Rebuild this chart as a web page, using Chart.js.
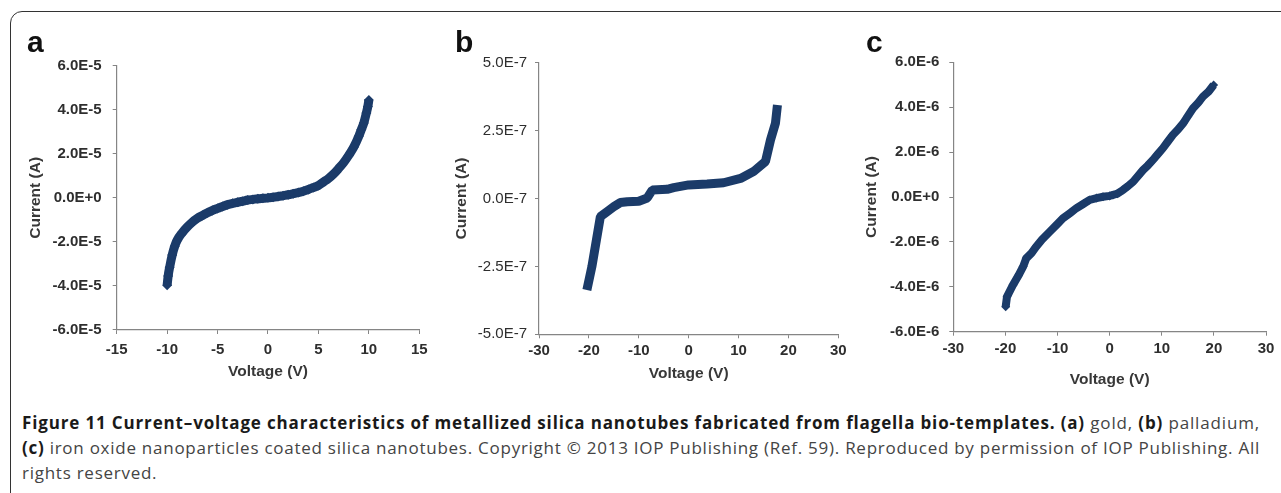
<!DOCTYPE html>
<html><head><meta charset="utf-8">
<script src="https://cdn.jsdelivr.net/npm/chart.js@4/dist/chart.umd.min.js"></script>
<style>
html,body{margin:0;padding:0;background:#fff;width:1281px;height:493px;overflow:hidden;position:relative;}
canvas{position:absolute;left:0;top:0;}
#frame{position:absolute;left:10px;top:11px;width:1300px;height:520px;border:1.5px solid #333;border-radius:12px;box-sizing:border-box;}
.pl{position:absolute;font:bold 30px 'Liberation Sans',Arial,sans-serif;line-height:30px;color:#111;}
#cap{position:absolute;left:22px;top:410px;font-family:'Open Sans',sans-serif;font-size:17px;line-height:25px;color:#444;white-space:nowrap;}
#cap .ln{display:inline-block;}
#cap b{font-weight:700;color:#1a1a1a;}
</style></head><body>
<div id="frame"></div>
<canvas id="ca" width="1281" height="400"></canvas>
<canvas id="cb" width="1281" height="400"></canvas>
<canvas id="cc" width="1281" height="400"></canvas>
<div class="pl" style="left:27px;top:27px">a</div>
<div class="pl" style="left:455px;top:27px">b</div>
<div class="pl" style="left:866px;top:27px">c</div>
<div id="cap">
<div class="ln" id="l1"><b>Figure 11 Current–voltage characteristics of metallized silica nanotubes fabricated from flagella bio-templates. (a)</b> gold, <b>(b)</b> palladium,</div><br>
<div class="ln" id="l2"><b>(c)</b> iron oxide nanoparticles coated silica nanotubes. Copyright © 2013 IOP Publishing (Ref. 59). Reproduced by permission of IOP Publishing. All</div><br>
<div class="ln" id="l3">rights reserved.</div>
</div>
<script>
// ---- Panel a: gold ----
const aVoltage = [-10, -9.9, -9.75, -9.5, -9.25, -9, -8.5, -8, -7.5, -7, -6.5, -6, -5.5, -5, -4.5, -4, -3.5, -3, -2.5, -2, -1.5, -1, -0.5, 0, 0.5, 1, 1.5, 2, 2.5, 3, 3.5, 4, 4.5, 5, 5.5, 6, 6.5, 7, 7.5, 8, 8.5, 9, 9.25, 9.5, 9.75, 9.9, 10];
const aCurrent = [-3.97e-5, -3.55e-5, -3.15e-5, -2.6e-5, -2.2e-5, -1.92e-5, -1.58e-5, -1.32e-5, -1.1e-5, -0.93e-5, -0.8e-5, -0.68e-5, -0.57e-5, -0.48e-5, -0.39e-5, -0.31e-5, -0.25e-5, -0.2e-5, -0.15e-5, -0.1e-5, -0.07e-5, -0.04e-5, -0.02e-5, 0, 0.03e-5, 0.06e-5, 0.1e-5, 0.14e-5, 0.19e-5, 0.24e-5, 0.3e-5, 0.38e-5, 0.47e-5, 0.56e-5, 0.72e-5, 0.88e-5, 1.08e-5, 1.33e-5, 1.6e-5, 1.93e-5, 2.3e-5, 2.8e-5, 3.1e-5, 3.4e-5, 3.85e-5, 4.15e-5, 4.44e-5];
const aXTicks = [-15, -10, -5, 0, 5, 10, 15];
const aXLabels = ['-15', '-10', '-5', '0', '5', '10', '15'];
const aYTicks = [-6e-5, -4e-5, -2e-5, 0, 2e-5, 4e-5, 6e-5];
const aYLabels = ['-6.0E-5', '-4.0E-5', '-2.0E-5', '0.0E+0', '2.0E-5', '4.0E-5', '6.0E-5'];

// ---- Panel b: palladium ----
const bVoltage = [-20.4, -19.4, -17.7, -16.4, -15, -13.7, -12.3, -10, -8.3, -7.3, -4.3, -3, 0, 3.7, 7, 10.4, 13, 15.4, 16.4, 17.4, 17.8];
const bCurrent = [-3.37e-7, -2.51e-7, -0.67e-7, -0.49e-7, -0.3e-7, -0.15e-7, -0.12e-7, -0.1e-7, 0.02e-7, 0.31e-7, 0.34e-7, 0.4e-7, 0.5e-7, 0.53e-7, 0.58e-7, 0.74e-7, 0.99e-7, 1.36e-7, 2.15e-7, 2.77e-7, 3.44e-7];
const bXTicks = [-30, -20, -10, 0, 10, 20, 30];
const bXLabels = ['-30', '-20', '-10', '0', '10', '20', '30'];
const bYTicks = [-5e-7, -2.5e-7, 0, 2.5e-7, 5e-7];
const bYLabels = ['-5.0E-7', '-2.5E-7', '0.0E-7', '2.5E-7', '5.0E-7'];

// ---- Panel c: iron oxide ----
const cVoltage = [-19.95, -19.7, -18.55, -17.5, -16.6, -16, -15, -14.1, -13, -11.5, -10, -8.96, -7.5, -6.4, -5, -3.84, -2.5, -1.28, 0, 0.64, 1.5, 2.55, 3.5, 4.5, 5.5, 6.4, 7.3, 8.3, 9.2, 10.2, 11.1, 12.1, 13.1, 14.1, 15, 16, 17, 17.9, 19, 19.95];
const cCurrent = [-4.89e-6, -4.44e-6, -3.92e-6, -3.5e-6, -3.1e-6, -2.73e-6, -2.5e-6, -2.21e-6, -1.9e-6, -1.55e-6, -1.2e-6, -0.95e-6, -0.7e-6, -0.5e-6, -0.3e-6, -0.13e-6, -0.05e-6, 0.01e-6, 0.05e-6, 0.09e-6, 0.15e-6, 0.31e-6, 0.48e-6, 0.68e-6, 0.95e-6, 1.2e-6, 1.4e-6, 1.65e-6, 1.9e-6, 2.17e-6, 2.45e-6, 2.76e-6, 3.0e-6, 3.28e-6, 3.6e-6, 3.95e-6, 4.2e-6, 4.47e-6, 4.7e-6, 4.99e-6];
const cXTicks = [-30, -20, -10, 0, 10, 20, 30];
const cXLabels = ['-30', '-20', '-10', '0', '10', '20', '30'];
const cYTicks = [-6e-6, -4e-6, -2e-6, 0, 2e-6, 4e-6, 6e-6];
const cYLabels = ['-6.0E-6', '-4.0E-6', '-2.0E-6', '0.0E+0', '2.0E-6', '4.0E-6', '6.0E-6'];

const FAM = "'Liberation Sans', Arial, sans-serif";
const NAVY = '#1b3b69';
const AXIS = '#858585';
const TXT = '#2e2e2e';

function panel(id, o) {
  const titleSize = 15.5, lhT = titleSize * 1.2;
  const padL = o.yTitleCX - lhT / 2;
  const padB = 400 - o.xTitleCY - lhT / 2;
  const yW = o.area.l - padL;
  const xH = 400 - padB - o.area.b;
  const ds = Object.assign({
    data: o.x.map((v, i) => ({x: v, y: o.y[i]})),
    showLine: true, borderColor: NAVY, backgroundColor: NAVY,
    pointBorderWidth: 0, clip: false
  }, o.ds);
  return new Chart(document.getElementById(id), {
    type: 'scatter',
    data: {datasets: [ds]},
    options: {
      responsive: false, animation: false, devicePixelRatio: 1,
      events: [],
      layout: {padding: {left: padL, right: 1281 - o.area.r, top: o.area.t, bottom: padB}},
      plugins: {legend: {display: false}, tooltip: {enabled: false}},
      scales: {
        x: {
          type: 'linear', min: o.xTicks[0], max: o.xTicks[o.xTicks.length - 1],
          afterBuildTicks: s => { s.ticks = o.xTicks.map(v => ({value: v})); },
          afterFit: s => { s.height = xH; s.paddingLeft = 0; s.paddingRight = 0; },
          ticks: {autoSkip: false, maxRotation: 0, padding: o.xPad, color: TXT,
                  font: {family: FAM, size: 15, weight: 'bold'},
                  callback: (v, i) => o.xLabels[i]},
          grid: {drawOnChartArea: false, drawTicks: true, tickLength: 4, color: AXIS, lineWidth: 1},
          border: {display: true, color: AXIS, width: 1.2},
          title: {display: true, text: 'Voltage (V)', color: '#383838', padding: 0,
                  font: {family: FAM, size: titleSize, weight: 'bold'}}
        },
        y: {
          type: 'linear', min: o.yTicks[0], max: o.yTicks[o.yTicks.length - 1],
          afterBuildTicks: s => { s.ticks = o.yTicks.map(v => ({value: v})); },
          afterFit: s => { s.width = yW; s.paddingTop = 0; s.paddingBottom = 0; },
          ticks: {autoSkip: false, padding: o.yPad, color: TXT,
                  font: {family: FAM, size: o.ySize || 15, weight: o.yWeight || 'bold'},
                  callback: (v, i) => o.yLabels[i]},
          grid: {drawOnChartArea: false, drawTicks: true, tickLength: 4, color: AXIS, lineWidth: 1},
          border: {display: true, color: AXIS, width: 1.2},
          title: {display: true, text: 'Current (A)', color: '#383838', padding: 0,
                  font: {family: FAM, size: titleSize, weight: 'bold'}}
        }
      }
    }
  });
}

panel('ca', {
  x: aVoltage, y: aCurrent, xTicks: aXTicks, xLabels: aXLabels, yTicks: aYTicks, yLabels: aYLabels,
  area: {l: 116.7, r: 419.3, t: 65.7, b: 330}, yTitleCX: 36, xTitleCY: 372, xPad: 7, yPad: 11,
  ds: {borderWidth: 9, pointStyle: 'rectRot', pointRadius: 5, cubicInterpolationMode: 'monotone'}
});
panel('cb', {
  x: bVoltage, y: bCurrent, xTicks: bXTicks, xLabels: bXLabels, yTicks: bYTicks, yLabels: bYLabels,
  area: {l: 539, r: 838.3, t: 62.7, b: 334.3}, yTitleCX: 461.5, xTitleCY: 374, xPad: 4, yPad: 8,
  ySize: 15, yWeight: 'normal',
  ds: {borderWidth: 9, pointRadius: 0, tension: 0, borderJoinStyle: 'bevel', borderCapStyle: 'butt'}
});
panel('cc', {
  x: cVoltage, y: cCurrent, xTicks: cXTicks, xLabels: cXLabels, yTicks: cYTicks, yLabels: cYLabels,
  area: {l: 953.3, r: 1266, t: 62.3, b: 331.7}, yTitleCX: 871.5, xTitleCY: 380, xPad: 4.5, yPad: 10,
  ds: {borderWidth: 8, pointStyle: 'rectRot', pointRadius: 4.5, tension: 0}
});

// fit caption lines to the reference width
function fitCaption() {
  const target = 1238;
  const l1 = document.getElementById('l1'), l2 = document.getElementById('l2'), l3 = document.getElementById('l3');
  const fit = el => {
    el.style.letterSpacing = '0px';
    const w = el.getBoundingClientRect().width;
    const n = el.textContent.length;
    const ls = (target - w) / n;
    el.style.letterSpacing = ls + 'px';
    return ls;
  };
  fit(l1);
  const ls2 = fit(l2);
  l3.style.letterSpacing = ls2 + 'px';
}
if (document.fonts && document.fonts.ready) document.fonts.ready.then(fitCaption); else fitCaption();
</script>
</body></html>
